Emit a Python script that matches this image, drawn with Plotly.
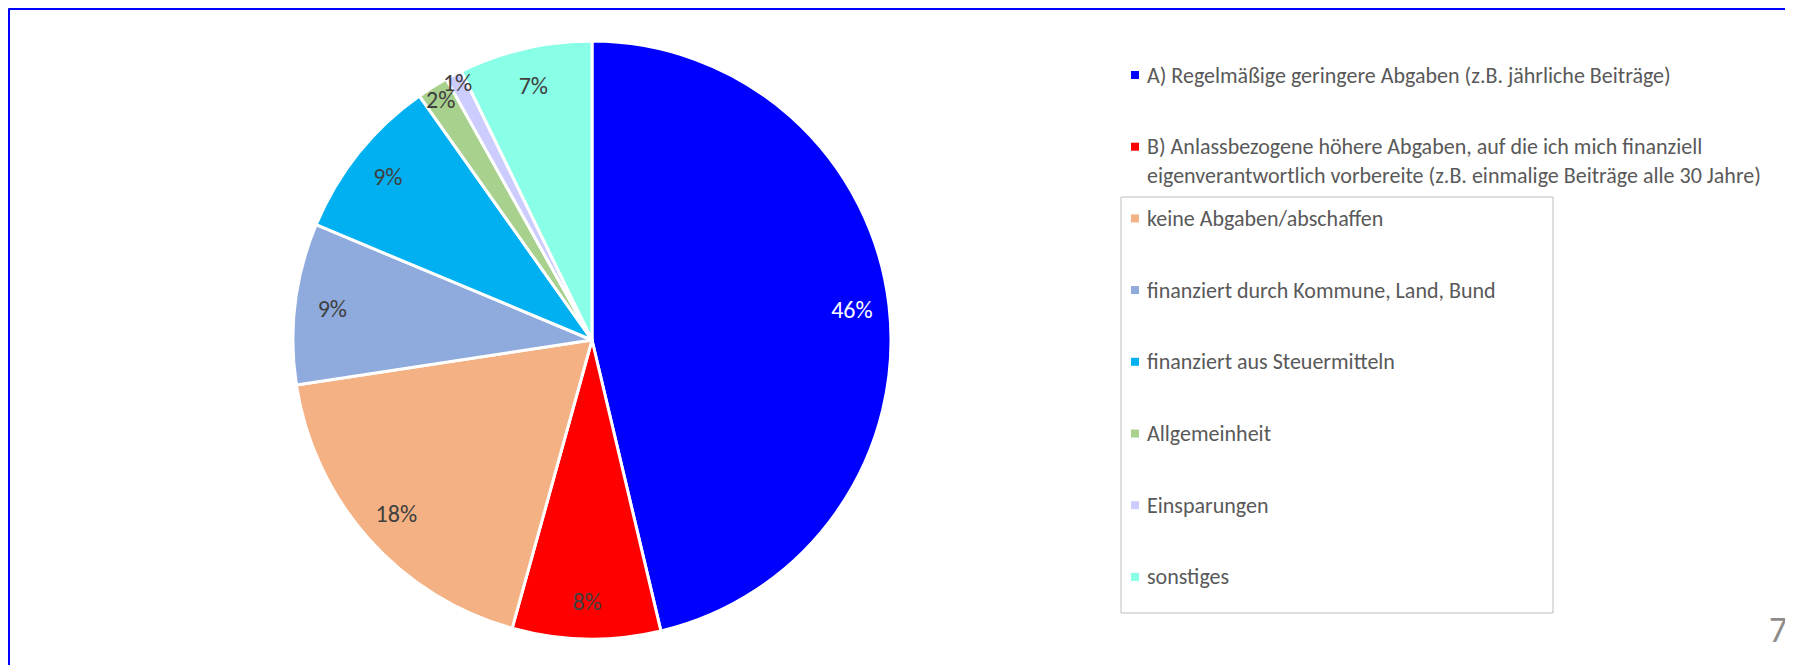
import plotly.graph_objects as go

# ---- data ----
labels = [
    "A) Regelmäßige geringere Abgaben (z.B. jährliche Beiträge)",
    "B) Anlassbezogene höhere Abgaben, auf die ich mich finanziell<br>eigenverantwortlich vorbereite (z.B. einmalige Beiträge alle 30 Jahre)",
    "keine Abgaben/abschaffen",
    "finanziert durch Kommune, Land, Bund",
    "finanziert aus Steuermitteln",
    "Allgemeinheit",
    "Einsparungen",
    "sonstiges",
]
values = [46.3, 8.0, 18.3, 8.7, 8.9, 1.7, 0.9, 7.2]
colors = ["#0000FF", "#FF0000", "#F4B183", "#8FAADC", "#00B0F0", "#A9D18E", "#CCCCFF", "#88FFE6"]
text_colors = ["#FFFFFF", "#404040", "#404040", "#404040", "#404040", "#404040", "#404040", "#404040"]
page_number = "7"

FONT = "Calibri, Carlito, Lato, sans-serif"
W, H = 1793, 665
OFF = 8  # page body margin


def px(x):
    return (x - OFF) / W


def py(y):
    return 1 - (y - OFF) / H


domain = dict(x=[px(293), px(891)], y=[py(639), py(41)])

# base pie: coloured slices with white separators
base = go.Pie(
    labels=labels,
    values=values,
    sort=False,
    direction="clockwise",
    rotation=0,
    marker=dict(colors=colors, line=dict(color="white", width=3)),
    textinfo="none",
    hoverinfo="skip",
    showlegend=False,
    domain=domain,
)

# transparent ring carrying the percentage labels near the rim
ring = go.Pie(
    labels=labels,
    values=values,
    sort=False,
    direction="clockwise",
    rotation=0,
    hole=0.75,
    marker=dict(colors=["rgba(0,0,0,0)"] * len(values), line=dict(width=0)),
    texttemplate="%{percent:.0%}",
    textposition="inside",
    insidetextorientation="horizontal",
    textfont=dict(family=FONT, size=24, color=text_colors),
    hoverinfo="skip",
    showlegend=False,
    domain=domain,
)

fig = go.Figure([base, ring])

# legend (drawn as text + colour keys)
LEG_FONT = 22
LH = 1.3 * LEG_FONT
first_y, step = 75, 71.7
shapes = [
    dict(type="line", xref="paper", yref="paper", x0=0.5 / W, x1=1, y0=1 - 0.5 / H, y1=1 - 0.5 / H,
         line=dict(color="#0000FF", width=3)),
    dict(type="line", xref="paper", yref="paper", x0=0.5 / W, x1=0.5 / W, y0=0, y1=1 - 0.5 / H,
         line=dict(color="#0000FF", width=3)),
    dict(type="rect", xref="paper", yref="paper", x0=px(1121), x1=px(1553),
         y0=py(613), y1=py(197), line=dict(color="#BFBFBF", width=1)),
]
annotations = []
for i, (lab, col) in enumerate(zip(labels, colors)):
    yc = first_y + i * step
    n = lab.count("<br>") + 1
    shapes.append(dict(type="rect", xref="paper", yref="paper",
                       x0=px(1131), x1=px(1139), y0=py(yc + 4), y1=py(yc - 4),
                       fillcolor=col, line=dict(width=0)))
    annotations.append(dict(text=lab, xref="paper", yref="paper", x=px(1145), y=py(yc + (n - 1) * LH / 2),
                            xanchor="left", yanchor="middle", align="left", showarrow=False,
                            font=dict(family=FONT, size=LEG_FONT, color="#595959")))

annotations.append(dict(text=page_number, xref="paper", yref="paper", x=px(1789), y=py(630),
                        xanchor="right", yanchor="middle", showarrow=False,
                        font=dict(family=FONT, size=36, color="#8C8C8C")))

fig.update_layout(
    width=W,
    height=H,
    margin=dict(l=0, r=0, t=0, b=0),
    paper_bgcolor="white",
    plot_bgcolor="white",
    uniformtext=dict(mode="show", minsize=24),
    showlegend=False,
    shapes=shapes,
    annotations=annotations,
)

fig.write_html("out.html")
